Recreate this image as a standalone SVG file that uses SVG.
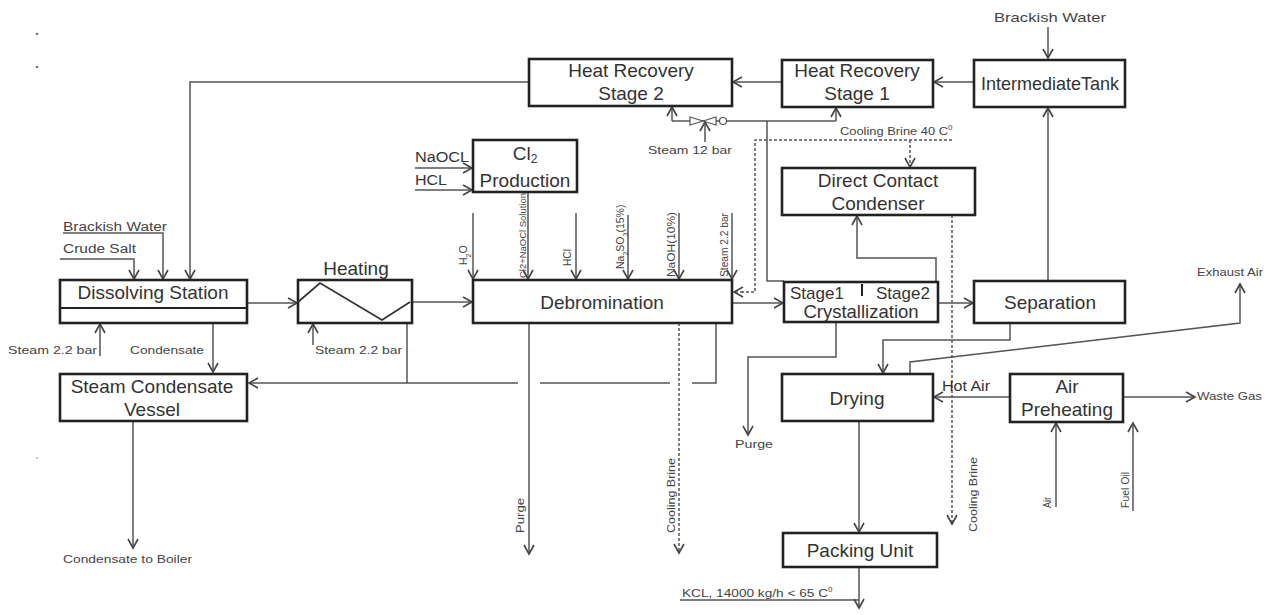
<svg xmlns="http://www.w3.org/2000/svg" width="1287" height="615" viewBox="0 0 1287 615">
<defs>
<marker id="ah" markerUnits="userSpaceOnUse" markerWidth="14" markerHeight="14" refX="10" refY="6" orient="auto">
<path d="M1,1 L10,6 L1,11" fill="none" stroke="#444" stroke-width="1.6"/>
</marker>
<style>
.box{fill:#fff;stroke:#222;stroke-width:2.6}
.ln{fill:none;stroke:#555;stroke-width:1.5}
.ar{fill:none;stroke:#555;stroke-width:1.5;marker-end:url(#ah)}
.da{fill:none;stroke:#555;stroke-width:1.5;stroke-dasharray:3,2}
.dar{fill:none;stroke:#555;stroke-width:1.5;stroke-dasharray:3,2;marker-end:url(#ah)}
.bt{font-family:"Liberation Sans",Arial,sans-serif;font-size:19px;fill:#333;text-anchor:middle}
.st{font-family:"Liberation Sans",Arial,sans-serif;font-size:11px;fill:#444}
.mt{font-family:"Liberation Sans",Arial,sans-serif;font-size:14px;fill:#333}
.rt{font-family:"Liberation Sans",Arial,sans-serif;font-size:10.5px;fill:#444}
</style>
</defs>
<rect width="1287" height="615" fill="#fff"/>
<circle cx="37" cy="34" r="1.3" fill="#777"/>
<circle cx="37" cy="67" r="1.3" fill="#777"/>
<circle cx="37" cy="458" r="1" fill="#bbb"/>

<g id="connectors">
<path class="ar" d="M1048,27 V58"/>
<path class="ar" d="M974,82 H934"/>
<path class="ar" d="M782,82 H733"/>
<path class="ar" d="M529,82 H190 V279"/>
<path class="ln" d="M672,121 H836"/>
<path class="ar" d="M672,121 V107"/>
<path class="ar" d="M836,121 V108"/>
<path class="ar" d="M705,142 V122"/>
<path d="M690,117 L716,125 L716,117 L690,125 Z" fill="#fff" stroke="#555" stroke-width="1.2"/>
<circle cx="723" cy="121" r="3.5" fill="#fff" stroke="#555" stroke-width="1.2"/>
<path class="ln" d="M767,121 V281 H784"/>
<path class="da" d="M952,140 H755 V292 H742"/>
<path class="dar" d="M743,292 H734"/>
<path class="dar" d="M910,140 V167"/>
<path class="dar" d="M952,215 V524"/>
<path class="ar" d="M936,282 V258 H857 V216"/>
<path class="ar" d="M528,192 V279"/>
<path class="ar" d="M415,168 H472"/>
<path class="ar" d="M415,190 H472"/>
<path class="ar" d="M473,213 V279"/>
<path class="ar" d="M576,213 V279"/>
<path class="ar" d="M628,215 V279"/>
<path class="ar" d="M679,213 V279"/>
<path class="ar" d="M732,213 V279"/>
<path class="ar" d="M412,302 H472"/>
<path class="ar" d="M732,303 H783"/>
<path class="ar" d="M529,323 V554"/>
<path class="dar" d="M679,323 V553"/>
<path class="ln" d="M716,323 V383 H692"/>
<path class="ln" d="M670,383 H540"/>
<path class="ar" d="M518,383 H249"/>
<path class="ln" d="M407,323 V383"/>
<path class="ar" d="M63,233 H163 V279"/>
<path class="ar" d="M60,259 H134 V279"/>
<path class="ar" d="M100,356 V324"/>
<path class="ar" d="M213,308 V372"/>
<path class="ar" d="M247,303 H297"/>
<path class="ar" d="M313,345 V324"/>
<path class="ar" d="M133,421 V548"/>
<path class="ar" d="M836,322 V357 H748 V435"/>
<path class="ar" d="M938,303 H973"/>
<path class="ar" d="M1048,281 V108"/>
<path class="ar" d="M1010,323 V340 H883 V373"/>
<path class="ar" d="M910,374 V362 L1240,323 V284"/>
<path class="ar" d="M1010,397 H934"/>
<path class="ar" d="M1123,397 H1195"/>
<path class="ar" d="M1056,507 V423"/>
<path class="ar" d="M1133,511 V423"/>
<path class="ar" d="M859,421 V532"/>
<path class="ar" d="M859,567 V608"/>
<path class="ln" d="M680,600 H859"/>
</g>

<g id="hr2"><rect class="box" x="529" y="59" width="203" height="47"/>
<text class="bt" x="631" y="77">Heat Recovery</text><text class="bt" x="631" y="100">Stage 2</text></g>
<g id="hr1"><rect class="box" x="782" y="60" width="151" height="47"/>
<text class="bt" x="857" y="77">Heat Recovery</text><text class="bt" x="857" y="100">Stage 1</text></g>
<g id="itank"><rect class="box" x="974" y="60" width="151" height="47"/>
<text class="bt" x="1050" y="90" textLength="138" lengthAdjust="spacingAndGlyphs">IntermediateTank</text></g>
<g id="cl2"><rect class="box" x="473" y="140" width="104" height="52"/>
<text class="bt" x="525" y="160">Cl<tspan dy="3" font-size="12">2</tspan></text><text class="bt" x="525" y="187">Production</text></g>
<g id="dcc"><rect class="box" x="782" y="168" width="193" height="47"/>
<text class="bt" x="878" y="187">Direct Contact</text><text class="bt" x="878" y="210">Condenser</text></g>
<g id="dissolving"><rect class="box" x="60" y="280" width="187" height="43"/>
<path class="ln" d="M60,308 H247" style="stroke:#222;stroke-width:2"/>
<text class="bt" x="153" y="299">Dissolving Station</text></g>
<g id="heating"><rect class="box" x="298" y="280" width="114" height="43"/>
<polyline class="ln" points="298,302 320,283 382,320 410,302" style="stroke:#333;stroke-width:1.8"/>
<text class="bt" x="356" y="275">Heating</text></g>
<g id="debromination"><rect class="box" x="473" y="280" width="259" height="43"/>
<text class="bt" x="602" y="309">Debromination</text></g>
<g id="crystallization"><rect class="box" x="784" y="282" width="154" height="40"/>
<path d="M862,284 V296" stroke="#222" stroke-width="2"/>
<text class="bt" x="790" y="299" style="text-anchor:start;font-size:17px">Stage1</text>
<text class="bt" x="876" y="299" style="text-anchor:start;font-size:17px">Stage2</text>
<text class="bt" x="861" y="318" style="font-size:18.5px">Crystallization</text></g>
<g id="separation"><rect class="box" x="974" y="281" width="151" height="42"/>
<text class="bt" x="1050" y="309">Separation</text></g>
<g id="scv"><rect class="box" x="60" y="374" width="187" height="47"/>
<text class="bt" x="152" y="393">Steam Condensate</text><text class="bt" x="152" y="416">Vessel</text></g>
<g id="drying"><rect class="box" x="782" y="374" width="151" height="47"/>
<text class="bt" x="857" y="405">Drying</text></g>
<g id="airpre"><rect class="box" x="1010" y="374" width="113" height="48"/>
<text class="bt" x="1067" y="393">Air</text><text class="bt" x="1067" y="416">Preheating</text></g>
<g id="packing"><rect class="box" x="783" y="533" width="154" height="34"/>
<text class="bt" x="860" y="557">Packing Unit</text></g>

<g id="labels">
<text class="st" x="994" y="22" textLength="112" lengthAdjust="spacingAndGlyphs" style="font-size:13px">Brackish Water</text>
<text class="st" x="648" y="154" textLength="84" lengthAdjust="spacingAndGlyphs">Steam 12 bar</text>
<text class="st" x="840" y="135"><tspan textLength="108" lengthAdjust="spacingAndGlyphs">Cooling Brine 40 C</tspan><tspan dy="-5" font-size="8">0</tspan></text>
<text class="mt" x="415" y="162" textLength="54" lengthAdjust="spacingAndGlyphs">NaOCL</text>
<text class="mt" x="415" y="185" textLength="32" lengthAdjust="spacingAndGlyphs">HCL</text>
<text class="st" x="63" y="231" textLength="104" lengthAdjust="spacingAndGlyphs" style="font-size:12px">Brackish Water</text>
<text class="st" x="63" y="253" textLength="73" lengthAdjust="spacingAndGlyphs" style="font-size:12px">Crude Salt</text>
<text class="st" x="8" y="354" textLength="89" lengthAdjust="spacingAndGlyphs">Steam 2.2 bar</text>
<text class="st" x="130" y="354" textLength="74" lengthAdjust="spacingAndGlyphs">Condensate</text>
<text class="st" x="315" y="354" textLength="87" lengthAdjust="spacingAndGlyphs">Steam 2.2 bar</text>
<text class="st" x="63" y="563" textLength="129" lengthAdjust="spacingAndGlyphs">Condensate to Boiler</text>
<text class="st" x="735" y="448" textLength="38" lengthAdjust="spacingAndGlyphs">Purge</text>
<text class="st" x="1197" y="276" textLength="66" lengthAdjust="spacingAndGlyphs">Exhaust Air</text>
<text class="mt" x="942" y="391" textLength="48" lengthAdjust="spacingAndGlyphs">Hot Air</text>
<text class="st" x="1197" y="400" textLength="65" lengthAdjust="spacingAndGlyphs">Waste Gas</text>
<text class="st" x="682" y="597"><tspan textLength="146" lengthAdjust="spacingAndGlyphs">KCL, 14000 kg/h &lt; 65 C</tspan><tspan dy="-5" font-size="8">0</tspan></text>
<text class="st" transform="translate(524,533) rotate(-90)" textLength="35" lengthAdjust="spacingAndGlyphs">Purge</text>
<text class="st" transform="translate(675,533) rotate(-90)" textLength="75" lengthAdjust="spacingAndGlyphs">Cooling Brine</text>
<text class="st" transform="translate(977,532) rotate(-90)" textLength="75" lengthAdjust="spacingAndGlyphs">Cooling Brine</text>
<text class="rt" transform="translate(1051,508) rotate(-90)" textLength="11" lengthAdjust="spacingAndGlyphs">Air</text>
<text class="st" transform="translate(1129,508) rotate(-90)" textLength="36" lengthAdjust="spacingAndGlyphs">Fuel Oil</text>
<text class="rt" transform="translate(467,265) rotate(-90)">H<tspan baseline-shift="sub" font-size="7">2</tspan>O</text>
<text class="rt" transform="translate(526,278) rotate(-90)" textLength="85" lengthAdjust="spacingAndGlyphs" style="font-size:9px">Cl2+NaOCl Solution</text>
<text class="rt" transform="translate(571,266) rotate(-90)" textLength="17" lengthAdjust="spacingAndGlyphs">HCl</text>
<text class="rt" transform="translate(624,269) rotate(-90)">Na<tspan baseline-shift="sub" font-size="7">2</tspan>SO<tspan baseline-shift="sub" font-size="7">3</tspan>(15%)</text>
<text class="rt" transform="translate(675,277) rotate(-90)" textLength="65" lengthAdjust="spacingAndGlyphs">NaOH(10%)</text>
<text class="rt" transform="translate(728,277) rotate(-90)" textLength="64" lengthAdjust="spacingAndGlyphs">Steam 2.2 bar</text>
</g>
</svg>
